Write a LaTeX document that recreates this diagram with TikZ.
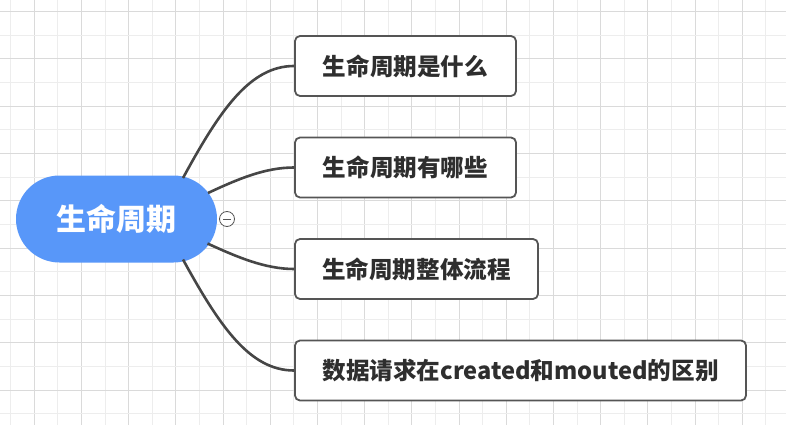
\documentclass[tikz,border=0pt]{standalone}
\usepackage{fontspec}
\setmainfont{Noto Sans CJK SC}
\usetikzlibrary{shapes.misc}
\definecolor{gridD}{HTML}{DADADA}
\definecolor{gridL}{HTML}{EDEDED}
\definecolor{rootblue}{HTML}{5897F9}
\definecolor{txt}{HTML}{2E2E2E}
\definecolor{edge}{HTML}{555555}
\definecolor{conn}{HTML}{464646}
\tikzset{
  gridlight/.style={draw=gridL, line width=1pt},
  griddark/.style={draw=gridD, line width=1pt},
  rootnode/.style={rounded rectangle, fill=rootblue, minimum width=201pt, minimum height=87pt, inner sep=0pt, text=white, font=\bfseries\fontsize{30pt}{30pt}\selectfont},
  topic/.style={rectangle, rounded corners=5pt, draw=edge, line width=1.8pt, fill=white, minimum height=60pt, inner sep=0pt, text=txt, font=\bfseries\fontsize{23.6pt}{23.6pt}\selectfont},
  connector/.style={draw=conn, line width=2.6pt},
  collapse/.style={circle, draw=edge, fill=white, line width=0.8pt, minimum size=15pt, inner sep=0pt}
}
\begin{document}
\begin{tikzpicture}[x=1pt, y=-1pt]
\useasboundingbox (0,0) rectangle (786,425);
\fill[white] (0,0) rectangle (786,425);
% grid
\foreach \i in {0,2,...,32} \draw[gridlight] ({10.7+23.6*\i},0) -- ++(0,425);
\foreach \i in {1,3,...,33} \draw[griddark] ({10.7+23.6*\i},0) -- ++(0,425);
\foreach \j in {1,3,...,17} \draw[gridlight] (0,{11.7+23.65*\j}) -- ++(786,0);
\foreach \j in {0,2,...,16} \draw[griddark] (0,{11.7+23.65*\j}) -- ++(786,0);
% nodes
\node[rootnode] (root) at (116.5,219) {生命周期};
\node[topic, minimum width=221pt] (t1) at (405.5,66) {生命周期是什么};
\node[topic, minimum width=221pt] (t2) at (405.5,167.5) {生命周期有哪些};
\node[topic, minimum width=243pt] (t3) at (416.5,269) {生命周期整体流程};
\node[topic, minimum width=451pt] (t4) at (520.5,370.5) {数据请求在created和mouted的区别};
\node[collapse] (col) at (227,219) {};
\draw[edge, line width=0.8pt] ([xshift=-4pt]col.center) -- ([xshift=4pt]col.center);
% connectors
\coordinate (s1) at ([shift={(66.5,-41)}]root.center);
\coordinate (s2) at ([shift={(91.5,-26)}]root.center);
\coordinate (s3) at ([shift={(91,24.5)}]root.center);
\coordinate (s4) at ([shift={(66.5,40.5)}]root.center);
\draw[connector] (s1) .. controls (220,110) and (250,66) .. (t1.west);
\draw[connector] (s2) .. controls (238,179) and (265,167.5) .. (t2.west);
\draw[connector] (s3) .. controls (237,257) and (265,269) .. (t3.west);
\draw[connector] (s4) .. controls (220,327) and (250,370.5) .. (t4.west);
\end{tikzpicture}
\end{document}
